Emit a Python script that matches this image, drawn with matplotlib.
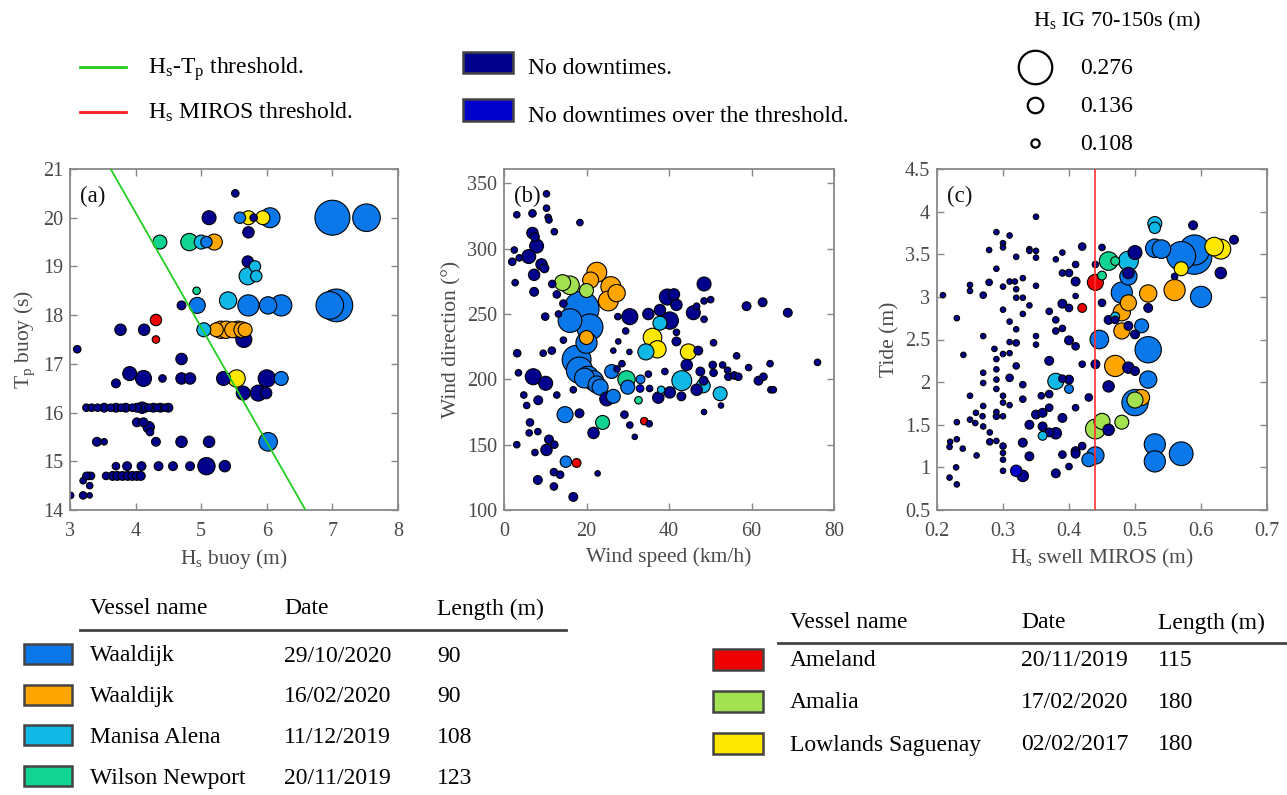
import numpy as np
import matplotlib
matplotlib.use('agg')
import matplotlib.pyplot as plt
from matplotlib.patches import Rectangle
from matplotlib.ticker import FuncFormatter

plt.rcParams['font.family'] = ['Liberation Serif', 'DejaVu Serif']
plt.rcParams['mathtext.fontset'] = 'custom'
plt.rcParams['mathtext.rm'] = 'Liberation Serif'
plt.rcParams['mathtext.it'] = 'Liberation Serif:italic'

# category keys, colours, and table entries
categories = ['nd', 'ndt', 'w1', 'w2', 'ma', 'wn', 'am', 'ama', 'ls']
cat_colors = ['#00008c', '#0000cc', '#0a78e8', '#ffa500', '#10b8e6',
              '#12d492', '#ee0000', '#a2e250', '#ffe800']
vessels_left = ['Waaldijk', 'Waaldijk', 'Manisa Alena', 'Wilson Newport']
dates_left = ['29/10/2020', '16/02/2020', '11/12/2019', '20/11/2019']
lengths_left = ['90', '90', '108', '123']
vessels_right = ['Ameland', 'Amalia', 'Lowlands Saguenay']
dates_right = ['20/11/2019', '17/02/2020', '02/02/2017']
lengths_right = ['115', '180', '180']
size_legend = [0.276, 0.136, 0.108]

# threshold lines
hstp_line_hs = [3.62, 6.59]
hstp_line_tp = [21, 14]
miros_threshold = 0.44

# ---- panel (a): Hs buoy vs Tp buoy, (x, y, Hs IG) ----
a_nd = [(5.52, 20.5, 0.10), (5.12, 20.0, 0.13), (5.72, 19.7, 0.12), (5.71, 19.1, 0.12),
        (4.70, 18.2, 0.11), (3.77, 17.7, 0.12), (4.13, 17.7, 0.12), (5.65, 17.5, 0.14),
        (3.11, 17.3, 0.10), (4.70, 17.1, 0.12), (3.91, 16.8, 0.13), (4.12, 16.7, 0.14),
        (4.41, 16.7, 0.10), (4.70, 16.7, 0.12), (4.83, 16.7, 0.12), (5.34, 16.7, 0.13),
        (6.00, 16.7, 0.15), (3.70, 16.6, 0.11), (5.64, 16.4, 0.13), (5.87, 16.4, 0.14),
        (5.99, 16.4, 0.12), (5.80, 20.0, 0.10),
        (3.25, 16.1, 0.10), (3.33, 16.1, 0.10), (3.42, 16.1, 0.10), (3.52, 16.1, 0.11),
        (3.62, 16.1, 0.10), (3.70, 16.1, 0.11), (3.78, 16.1, 0.10), (3.85, 16.1, 0.11),
        (3.95, 16.1, 0.10), (4.02, 16.1, 0.11), (4.10, 16.1, 0.12), (4.15, 16.1, 0.11),
        (4.20, 16.1, 0.10), (4.27, 16.1, 0.11), (4.33, 16.1, 0.10), (4.38, 16.1, 0.11),
        (4.45, 16.1, 0.10), (4.50, 16.1, 0.11),
        (4.02, 15.8, 0.11), (4.12, 15.8, 0.11), (4.20, 15.7, 0.12), (4.22, 15.6, 0.10),
        (3.41, 15.4, 0.11), (3.52, 15.4, 0.09), (4.31, 15.4, 0.11), (4.70, 15.4, 0.12),
        (5.12, 15.4, 0.12),
        (3.70, 14.9, 0.10), (3.87, 14.9, 0.11), (4.09, 14.9, 0.11), (4.35, 14.9, 0.11),
        (4.57, 14.9, 0.11), (4.83, 14.9, 0.11), (5.08, 14.9, 0.15), (5.36, 14.9, 0.12),
        (3.28, 14.7, 0.10), (3.32, 14.7, 0.10), (3.55, 14.7, 0.10), (3.65, 14.7, 0.11),
        (3.72, 14.7, 0.11), (3.80, 14.7, 0.11), (3.88, 14.7, 0.11), (3.95, 14.7, 0.11),
        (4.02, 14.7, 0.11), (4.08, 14.7, 0.11),
        (3.20, 14.6, 0.09), (3.30, 14.5, 0.09), (3.01, 14.3, 0.09), (3.20, 14.3, 0.10),
        (3.30, 14.3, 0.08), (3.25, 14.7, 0.10)]
a_ndt = []
a_w1 = [(5.59, 20.0, 0.12), (6.05, 20.0, 0.17), (7.00, 20.0, 0.29), (7.52, 20.0, 0.23),
        (4.94, 18.2, 0.14), (5.72, 18.2, 0.18), (6.02, 18.2, 0.15), (6.22, 18.2, 0.18),
        (6.96, 18.2, 0.23), (7.06, 18.2, 0.27), (6.02, 15.4, 0.16), (6.22, 16.7, 0.13),
        (5.08, 19.5, 0.12)]
a_w2 = [(5.20, 19.5, 0.14), (5.23, 17.7, 0.13), (5.30, 17.7, 0.15), (5.38, 17.7, 0.15),
        (5.48, 17.7, 0.14), (5.56, 17.7, 0.15), (5.62, 17.7, 0.14), (5.67, 17.7, 0.13)]
a_ma = [(5.00, 19.5, 0.13), (5.82, 19.0, 0.12), (5.71, 18.8, 0.15), (5.84, 18.8, 0.12),
        (5.41, 18.3, 0.15), (5.04, 17.7, 0.13)]
a_wn = [(4.37, 19.5, 0.13), (4.82, 19.5, 0.15), (4.93, 18.5, 0.10)]
a_am = [(4.31, 17.9, 0.12), (4.31, 17.5, 0.10)]
a_ama = []
a_ls = [(5.72, 20.0, 0.13), (5.94, 20.0, 0.13), (5.54, 16.7, 0.15)]

# ---- panel (b): wind speed vs wind direction ----
b_nd = [(6.9, 312, 0.12), (7.5, 309, 0.11), (7.9, 302, 0.13), (6.0, 294, 0.13),
        (9.1, 288, 0.12), (9.8, 285, 0.11), (7.3, 280, 0.12), (7.3, 267, 0.11),
        (10.0, 248, 0.10), (30.5, 248, 0.14), (35.0, 250, 0.12), (37.8, 253, 0.12),
        (39.6, 263, 0.14), (41.2, 265, 0.12), (41.8, 257, 0.12), (40.2, 245, 0.15),
        (45.9, 251, 0.13), (48.5, 273, 0.13), (7.1, 202, 0.14), (10.1, 197, 0.13),
        (8.3, 184, 0.11), (6.3, 167, 0.10), (10.3, 146, 0.12), (10.9, 154, 0.11),
        (12.2, 150, 0.10), (12.1, 129, 0.10), (13.6, 127, 0.10), (12.1, 118, 0.10),
        (16.8, 110, 0.11), (8.2, 123, 0.11), (18.3, 174, 0.11), (21.7, 159, 0.12),
        (24.9, 185, 0.13), (29.2, 173, 0.10), (37.4, 186, 0.12), (40.2, 190, 0.12),
        (43.0, 187, 0.11), (46.7, 192, 0.12), (44.3, 211, 0.12), (41.8, 229, 0.11),
        (47.1, 222, 0.11), (47.6, 206, 0.11), (48.4, 199, 0.11), (50.6, 211, 0.10),
        (50.8, 205, 0.10), (54.4, 202, 0.10), (55.8, 203, 0.10), (56.8, 202, 0.10),
        (58.8, 256, 0.11), (61.7, 199, 0.11), (62.7, 259, 0.11), (62.9, 202, 0.10),
        (68.8, 251, 0.11), (76.0, 213, 0.09),
        (10.3, 342, 0.09), (3.1, 326, 0.09), (6.9, 327, 0.10), (10.3, 331, 0.09),
        (10.7, 324, 0.09), (10.9, 322, 0.09), (12.2, 313, 0.09), (18.4, 320, 0.09),
        (2.5, 299, 0.09), (3.7, 293, 0.09), (2.0, 290, 0.10), (2.7, 274, 0.09),
        (3.2, 220, 0.10), (3.5, 205, 0.09), (3.1, 150, 0.09), (4.8, 188, 0.09),
        (5.5, 180, 0.09), (6.1, 159, 0.09), (7.5, 144, 0.09), (8.2, 160, 0.09),
        (9.5, 220, 0.09), (11.6, 222, 0.10), (13.2, 250, 0.09), (14.4, 258, 0.10),
        (14.4, 230, 0.09), (12.8, 188, 0.09), (16.8, 192, 0.09), (22.7, 128, 0.08),
        (26.5, 222, 0.08), (27.6, 248, 0.09), (29.5, 237, 0.09), (30.4, 221, 0.08),
        (28.6, 212, 0.09), (30.5, 165, 0.09), (31.7, 156, 0.08), (35.2, 166, 0.09),
        (35.0, 204, 0.09), (39.0, 206, 0.09), (41.8, 236, 0.09), (46.7, 256, 0.09),
        (48.5, 260, 0.09), (50.1, 261, 0.09), (48.5, 246, 0.09), (48.5, 175, 0.08),
        (50.8, 228, 0.09), (52.6, 180, 0.08), (53.0, 211, 0.09), (54.2, 207, 0.09),
        (56.4, 218, 0.09), (59.3, 209, 0.09), (64.5, 212, 0.09), (64.7, 192, 0.09),
        (65.3, 192, 0.09), (35.3, 193, 0.09), (27.7, 229, 0.08), (27.4, 208, 0.09),
        (11.7, 273, 0.10), (12.8, 265, 0.10)]
b_ndt = [(33.0, 193, 0.10)]
b_w1 = [(18.8, 254, 0.29), (16.0, 245, 0.20), (20.8, 240, 0.22), (20.0, 228, 0.18),
        (17.6, 215, 0.24), (18.3, 207, 0.22), (20.4, 202, 0.18), (21.7, 199, 0.17),
        (23.3, 194, 0.14), (26.1, 206, 0.13), (26.5, 187, 0.13), (14.8, 173, 0.14),
        (15.0, 137, 0.12), (33.1, 200, 0.11), (30.0, 194, 0.13), (19.5, 201, 0.17),
        (22.5, 196, 0.15)]
b_w2 = [(21.0, 276, 0.14), (22.5, 282, 0.17), (25.9, 271, 0.17), (25.3, 260, 0.17),
        (27.3, 266, 0.15), (20.0, 232, 0.13)]
b_ma = [(37.8, 243, 0.13), (34.4, 221, 0.14), (38.1, 192, 0.10), (43.1, 199, 0.17),
        (48.3, 195, 0.13), (52.4, 189, 0.13)]
b_wn = [(29.7, 200, 0.15), (23.9, 167, 0.13), (32.6, 184, 0.10)]
b_am = [(17.6, 136, 0.11), (34.0, 168, 0.10)]
b_ama = [(14.2, 274, 0.14), (16.0, 272, 0.16), (20.0, 268, 0.13)]
b_ls = [(36.0, 232, 0.16), (37.2, 223, 0.15), (44.7, 221, 0.14)]

# ---- panel (c): Hs swell MIROS vs tide ----
c_nd = [(0.209, 3.02, 0.08), (0.220, 1.30, 0.08), (0.219, 1.24, 0.08), (0.219, 0.88, 0.08),
        (0.230, 0.80, 0.08), (0.229, 1.00, 0.08), (0.230, 1.33, 0.08), (0.230, 1.53, 0.08),
        (0.230, 2.75, 0.08), (0.239, 1.22, 0.08), (0.240, 2.32, 0.08), (0.250, 3.14, 0.08),
        (0.250, 3.07, 0.08), (0.250, 1.84, 0.08), (0.250, 1.56, 0.08), (0.260, 1.14, 0.08),
        (0.258, 1.52, 0.08), (0.259, 1.64, 0.08), (0.269, 1.60, 0.08), (0.270, 1.48, 0.08),
        (0.270, 2.54, 0.08), (0.270, 3.02, 0.09), (0.270, 2.11, 0.08), (0.270, 1.99, 0.08),
        (0.270, 1.72, 0.08), (0.279, 3.55, 0.08), (0.279, 3.17, 0.09), (0.280, 1.30, 0.09),
        (0.280, 1.41, 0.08), (0.290, 1.65, 0.08), (0.287, 2.39, 0.08), (0.290, 3.76, 0.08),
        (0.290, 3.33, 0.08), (0.290, 2.27, 0.08), (0.290, 2.15, 0.08), (0.290, 2.03, 0.08),
        (0.290, 1.92, 0.08), (0.290, 1.60, 0.09), (0.290, 1.31, 0.08), (0.300, 3.63, 0.08),
        (0.300, 3.58, 0.08), (0.300, 3.12, 0.08), (0.300, 2.85, 0.08), (0.300, 2.33, 0.08),
        (0.300, 1.84, 0.08), (0.300, 1.76, 0.08), (0.300, 1.60, 0.08), (0.300, 1.17, 0.08),
        (0.300, 1.09, 0.08), (0.300, 0.96, 0.08), (0.310, 3.72, 0.08), (0.310, 3.18, 0.08),
        (0.310, 2.71, 0.08), (0.310, 2.47, 0.08), (0.310, 2.34, 0.08), (0.310, 1.73, 0.08),
        (0.320, 3.47, 0.08), (0.318, 3.18, 0.08), (0.320, 3.09, 0.08), (0.320, 2.99, 0.08),
        (0.320, 2.62, 0.08), (0.330, 3.22, 0.08), (0.330, 2.99, 0.08), (0.330, 2.80, 0.08),
        (0.340, 3.56, 0.08), (0.340, 2.90, 0.08), (0.340, 3.54, 0.08), (0.350, 3.94, 0.08),
        (0.350, 3.54, 0.08), (0.350, 3.46, 0.08), (0.350, 3.13, 0.08), (0.350, 2.54, 0.08),
        (0.350, 2.44, 0.08),
        (0.330, 0.90, 0.12), (0.330, 1.29, 0.11), (0.340, 1.13, 0.11), (0.340, 1.50, 0.11),
        (0.350, 1.62, 0.11), (0.360, 1.48, 0.11), (0.360, 1.64, 0.11), (0.358, 1.84, 0.09),
        (0.370, 2.25, 0.11), (0.370, 1.70, 0.10), (0.370, 1.86, 0.10), (0.370, 1.41, 0.11),
        (0.380, 1.40, 0.12), (0.380, 0.93, 0.11), (0.390, 1.15, 0.10), (0.390, 1.58, 0.11),
        (0.390, 2.04, 0.10), (0.400, 2.03, 0.11), (0.400, 1.01, 0.09), (0.410, 1.19, 0.11),
        (0.410, 1.16, 0.11), (0.420, 1.25, 0.10), (0.410, 1.70, 0.09), (0.420, 2.21, 0.09),
        (0.410, 2.42, 0.10), (0.400, 2.49, 0.11), (0.380, 2.60, 0.09), (0.390, 2.63, 0.09),
        (0.370, 2.83, 0.09), (0.380, 2.73, 0.09), (0.390, 2.92, 0.11), (0.400, 2.87, 0.10),
        (0.390, 3.28, 0.09), (0.400, 3.28, 0.10), (0.410, 3.18, 0.11), (0.410, 3.38, 0.09),
        (0.420, 3.59, 0.10), (0.380, 3.44, 0.08), (0.390, 3.52, 0.08), (0.410, 3.01, 0.08),
        (0.450, 3.58, 0.09), (0.440, 3.38, 0.09), (0.430, 1.82, 0.10), (0.440, 2.21, 0.11),
        (0.450, 2.93, 0.10), (0.460, 1.95, 0.12), (0.460, 2.73, 0.11), (0.470, 2.73, 0.10),
        (0.490, 2.66, 0.11), (0.500, 2.56, 0.11), (0.490, 2.17, 0.12), (0.500, 2.13, 0.11),
        (0.500, 3.52, 0.13), (0.490, 3.28, 0.12), (0.520, 2.87, 0.11), (0.588, 3.84, 0.11),
        (0.630, 3.28, 0.12), (0.650, 3.67, 0.11), (0.560, 3.24, 0.09), (0.460, 1.44, 0.12),
        (0.310, 2.05, 0.10), (0.320, 2.19, 0.09), (0.330, 1.80, 0.09), (0.330, 1.97, 0.09),
        (0.300, 1.25, 0.09), (0.320, 2.46, 0.09)]
c_ndt = [(0.320, 0.96, 0.12)]
c_w1 = [(0.446, 2.50, 0.16), (0.430, 1.09, 0.13), (0.440, 1.14, 0.15), (0.480, 3.05, 0.18),
        (0.490, 3.24, 0.15), (0.510, 2.66, 0.13), (0.520, 2.38, 0.22), (0.520, 2.03, 0.15),
        (0.500, 1.76, 0.22), (0.530, 3.57, 0.16), (0.540, 3.56, 0.16), (0.530, 1.27, 0.18),
        (0.530, 1.07, 0.18), (0.570, 1.16, 0.20), (0.570, 3.48, 0.24), (0.590, 3.47, 0.29),
        (0.590, 3.55, 0.25), (0.600, 3.00, 0.18), (0.400, 1.92, 0.11)]
c_w2 = [(0.490, 2.93, 0.14), (0.480, 2.82, 0.15), (0.480, 2.60, 0.14), (0.520, 3.04, 0.15),
        (0.560, 3.08, 0.18), (0.470, 2.19, 0.18), (0.510, 1.82, 0.14)]
c_ma = [(0.380, 2.01, 0.14), (0.360, 1.37, 0.11), (0.530, 3.86, 0.13), (0.530, 3.81, 0.12),
        (0.490, 3.42, 0.17), (0.470, 2.77, 0.11)]
c_wn = [(0.460, 3.42, 0.16), (0.470, 3.42, 0.11), (0.450, 3.25, 0.11)]
c_am = [(0.440, 3.17, 0.14), (0.420, 2.87, 0.11)]
c_ama = [(0.440, 1.45, 0.17), (0.450, 1.54, 0.14), (0.480, 1.53, 0.13), (0.500, 1.79, 0.14)]
c_ls = [(0.570, 3.33, 0.13), (0.620, 3.59, 0.16), (0.630, 3.56, 0.17)]

panel_a = [a_nd, a_ndt, a_w1, a_w2, a_ma, a_wn, a_am, a_ama, a_ls]
panel_b = [b_nd, b_ndt, b_w1, b_w2, b_ma, b_wn, b_am, b_ama, b_ls]
panel_c = [c_nd, c_ndt, c_w1, c_w2, c_ma, c_wn, c_am, c_ama, c_ls]


def marker_area(ig):
    d = np.interp(ig, [0.07, 0.108, 0.136, 0.276, 0.31], [4.5, 8.3, 15.5, 33.5, 37])
    return (d * 0.72) ** 2


def scatter_panel(ax, groups):
    xs, ys, igs, cols = [], [], [], []
    for pts, col in zip(groups, cat_colors):
        for x, y, ig in pts:
            xs.append(x)
            ys.append(y)
            igs.append(ig)
            cols.append(col)
    xs, ys, igs = np.array(xs), np.array(ys), np.array(igs)
    order = np.argsort(-igs, kind='stable')
    ax.scatter(xs[order], ys[order], s=marker_area(igs[order]),
               c=[cols[i] for i in order], edgecolors='k', linewidths=0.8, zorder=2)


def style_axes(ax):
    for sp in ax.spines.values():
        sp.set_color('#888888')
        sp.set_linewidth(1.3)
    ax.tick_params(direction='in', top=True, right=True, length=5, width=1,
                   color='#888888', labelcolor='#4a4a4a', labelsize=14.5)
    ax.tick_params(axis='x', pad=9)
    ax.tick_params(axis='y', pad=5)
    ax.xaxis.set_major_formatter(FuncFormatter(lambda v, p: '%g' % v))
    ax.yaxis.set_major_formatter(FuncFormatter(lambda v, p: '%g' % v))


fig = plt.figure(figsize=(12.87, 7.95), dpi=100)
W, H = 1287, 795
bottom = (H - 510) / H
height = 341 / H

ax_a = fig.add_axes([70 / W, bottom, 328 / W, height])
ax_b = fig.add_axes([504 / W, bottom, 330 / W, height])
ax_c = fig.add_axes([937 / W, bottom, 330 / W, height])

lab_kw = dict(fontsize=15.5, color='#4a4a4a')

scatter_panel(ax_a, panel_a)
ax_a.plot(hstp_line_hs, hstp_line_tp, color='#22cc22', lw=1.3, zorder=3)
ax_a.set_xlim(3, 8)
ax_a.set_ylim(14, 21)
ax_a.set_xticks(range(3, 9))
ax_a.set_yticks(range(14, 22))
ax_a.set_xlabel(r'H$_{\rm s}$ buoy (m)', **lab_kw)
ax_a.set_ylabel(r'T$_{\rm p}$ buoy (s)', **lab_kw)

scatter_panel(ax_b, panel_b)
ax_b.set_xlim(0, 80)
ax_b.set_ylim(100, 361)
ax_b.set_xticks(range(0, 81, 20))
ax_b.set_yticks(range(100, 351, 50))
ax_b.set_xlabel('Wind speed (km/h)', **lab_kw)
ax_b.set_ylabel('Wind direction (°)', **lab_kw)

scatter_panel(ax_c, panel_c)
ax_c.axvline(miros_threshold, color='#ff3030', lw=1.2, zorder=3)
ax_c.set_xlim(0.2, 0.7)
ax_c.set_ylim(0.5, 4.5)
ax_c.set_xticks(np.arange(0.2, 0.71, 0.1))
ax_c.set_yticks(np.arange(0.5, 4.51, 0.5))
ax_c.set_xlabel(r'H$_{\rm s}$ swell MIROS (m)', **lab_kw)
ax_c.set_ylabel('Tide (m)', **lab_kw)

for ax, lab in zip([ax_a, ax_b, ax_c], ['(a)', '(b)', '(c)']):
    style_axes(ax)
    ax.text(0.03, 0.95, lab, transform=ax.transAxes, fontsize=16.5,
            va='top', ha='left', color='#111111')

# overlay in pixel coordinates for legends and tables
ov = fig.add_axes([0, 0, 1, 1], zorder=-1)
ov.set_xlim(0, W)
ov.set_ylim(H, 0)
ov.axis('off')

fs = 17
ov.plot([80, 126], [67, 67], color='#22cc22', lw=2)
ov.text(148, 69, r'H$_{\rm s}$-T$_{\rm p}$ threshold.', fontsize=fs, va='center')
ov.plot([80, 126], [112, 112], color='#ff2020', lw=2)
ov.text(148, 112, r'H$_{\rm s}$ MIROS threshold.', fontsize=fs, va='center')

ov.add_patch(Rectangle((463, 52), 50, 21, facecolor=cat_colors[0],
                       edgecolor='#444444', lw=1.8))
ov.text(528, 69, 'No downtimes.', fontsize=fs, va='center')
ov.add_patch(Rectangle((463, 99), 50, 22, facecolor=cat_colors[1],
                       edgecolor='#444444', lw=1.8))
ov.text(528, 116, 'No downtimes over the threshold.', fontsize=fs, va='center')

ov.text(1117, 21, r'H$_{\rm s}$ IG 70-150s (m)', fontsize=16, ha='center', va='center')
for val, yy in zip(size_legend, [67, 105, 143]):
    ov.scatter([1035], [yy], s=marker_area(val), facecolors='white',
               edgecolors='k', linewidths=1.6)
    ov.text(1080, yy + 2, '%.3f' % val, fontsize=fs, va='center')

# left table
ov.text(90, 609, 'Vessel name', fontsize=fs, va='center')
ov.text(284, 609, 'Date', fontsize=fs, va='center')
ov.text(437, 609, 'Length (m)', fontsize=fs, va='center')
ov.plot([80, 566], [630, 630], color='#444444', lw=2)
for i, (nm, dt, ln) in enumerate(zip(vessels_left, dates_left, lengths_left)):
    yy = 654 + i * 40.7
    ov.add_patch(Rectangle((24, yy - 10), 48, 20, facecolor=cat_colors[2 + i],
                           edgecolor='#444444', lw=1.8))
    ov.text(90, yy + 2, nm, fontsize=fs, va='center')
    ov.text(284, yy + 2, dt, fontsize=fs, va='center')
    ov.text(437, yy + 2, ln, fontsize=fs, va='center')

# right table
ov.text(790, 623, 'Vessel name', fontsize=fs, va='center')
ov.text(1021, 623, 'Date', fontsize=fs, va='center')
ov.text(1158, 623, 'Length (m)', fontsize=fs, va='center')
ov.plot([778, 1287], [643, 643], color='#444444', lw=2)
for i, (nm, dt, ln) in enumerate(zip(vessels_right, dates_right, lengths_right)):
    yy = 659 + i * 42
    ov.add_patch(Rectangle((713, yy - 10.5), 50, 21, facecolor=cat_colors[6 + i],
                           edgecolor='#444444', lw=1.8))
    ov.text(790, yy + 2, nm, fontsize=fs, va='center')
    ov.text(1021, yy + 2, dt, fontsize=fs, va='center')
    ov.text(1158, yy + 2, ln, fontsize=fs, va='center')

fig.savefig('out.png', dpi=100)
plt.close(fig)
